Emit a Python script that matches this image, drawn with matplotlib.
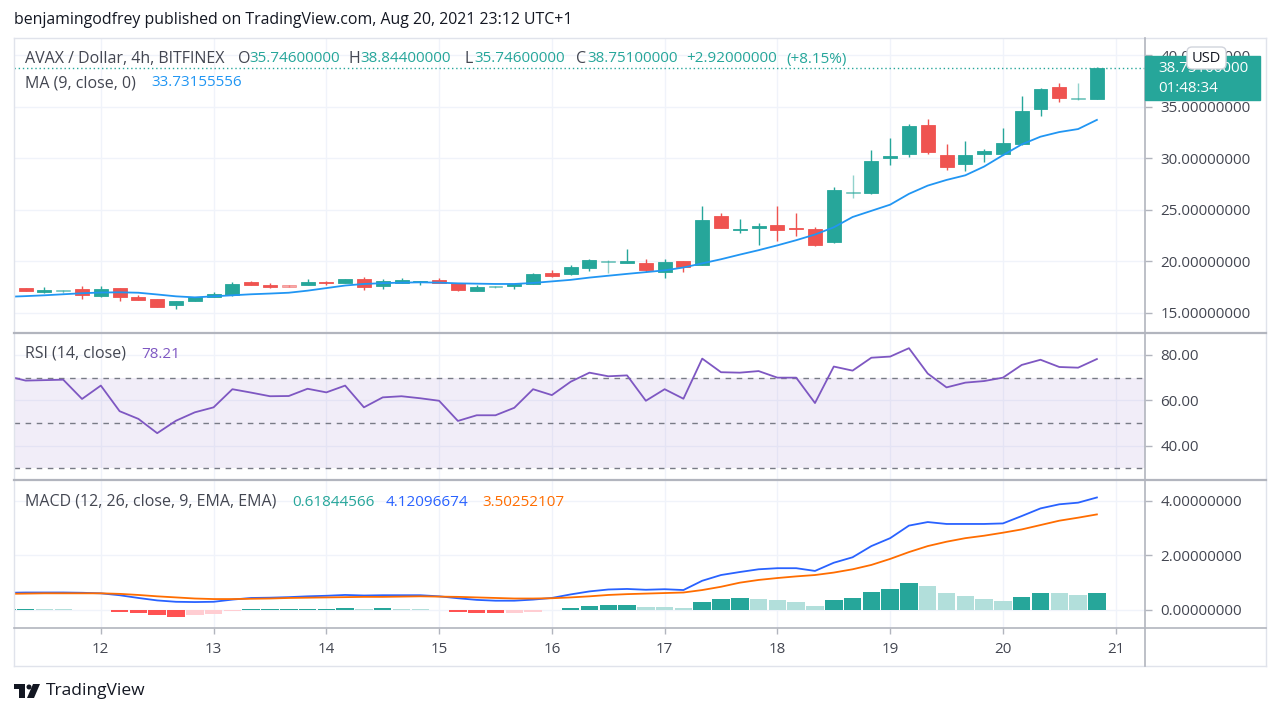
import numpy as np
import matplotlib.pyplot as plt
from matplotlib.patches import Rectangle, FancyBboxPatch, Polygon, Circle
from matplotlib.lines import Line2D
from matplotlib.transforms import Affine2D
from matplotlib.colors import to_rgba

plt.rcParams['font.family'] = ['Open Sans', 'DejaVu Sans']

# AVAX / USD 4h candles, Aug 11 - Aug 20 2021
opens = [16.85, 17.38, 17.02, 17.12, 17.28, 16.60, 17.38, 16.56, 16.31, 15.73,
         16.15, 16.50, 16.70, 17.96, 17.73, 17.67, 17.67, 17.99, 17.86, 18.25,
         17.60, 17.86, 18.00, 18.18, 17.89, 17.15, 17.50, 17.57, 17.77, 18.90,
         18.74, 19.38, 19.90, 19.87, 19.81, 18.93, 20.03, 19.64, 24.37, 23.00,
         23.26, 23.52, 23.20, 23.17, 21.90, 26.62, 26.60, 30.06, 30.42, 33.20,
         30.35, 29.48, 30.39, 30.45, 31.36, 34.79, 36.89, 35.75, 35.746]
highs = [17.35, 17.45, 17.48, 17.18, 17.60, 17.60, 17.42, 16.76, 16.31, 16.17,
         16.55, 17.02, 17.99, 18.09, 17.90, 17.70, 18.25, 18.13, 18.28, 18.50,
         18.25, 18.38, 18.12, 18.38, 17.89, 17.70, 17.65, 17.83, 18.82, 19.16,
         19.61, 20.25, 20.10, 21.17, 20.22, 20.19, 20.05, 25.34, 24.66, 24.10,
         23.72, 25.40, 24.72, 23.33, 27.24, 28.38, 30.80, 31.94, 33.30, 33.79,
         31.42, 31.68, 30.90, 32.97, 36.08, 36.80, 37.31, 37.28, 38.844]
lows = [16.80, 17.15, 16.95, 16.95, 16.37, 16.53, 16.15, 16.24, 15.60, 15.40,
        16.10, 16.50, 16.65, 17.67, 17.45, 17.52, 17.67, 17.73, 17.86, 17.20,
        17.31, 17.86, 17.67, 17.92, 17.09, 17.09, 17.40, 17.28, 17.77, 18.45,
        18.70, 19.09, 18.89, 19.87, 18.99, 18.41, 18.99, 19.60, 23.26, 22.72,
        21.58, 21.97, 22.49, 21.50, 21.80, 26.12, 26.55, 29.35, 30.16, 30.45,
        28.84, 28.80, 29.61, 30.30, 31.30, 34.14, 35.44, 35.70, 35.746]
closes = [17.30, 17.15, 17.18, 17.16, 16.70, 17.34, 16.53, 16.24, 15.60, 16.17,
          16.53, 16.83, 17.80, 17.67, 17.48, 17.54, 17.99, 17.86, 18.25, 17.54,
          18.09, 18.18, 18.09, 17.92, 17.21, 17.50, 17.58, 17.83, 18.80, 18.57,
          19.42, 20.13, 19.96, 20.03, 19.18, 19.96, 19.48, 23.98, 23.26, 23.17,
          23.43, 23.04, 23.10, 21.58, 26.92, 26.70, 29.77, 30.25, 33.14, 30.61,
          29.13, 30.29, 30.71, 31.49, 34.62, 36.70, 35.83, 35.80, 38.751]
faint_bars = [3, 15, 26, 32, 45, 57]

ma9 = [16.55, 16.62, 16.70, 16.80, 16.90, 16.97, 16.99, 16.95, 16.78, 16.60,
       16.50, 16.60, 16.70, 16.80, 16.87, 16.95, 17.15, 17.40, 17.65, 17.80,
       17.88, 17.93, 17.96, 17.93, 17.86, 17.83, 17.80, 17.80, 17.90, 18.05,
       18.20, 18.42, 18.60, 18.78, 18.95, 19.12, 19.40, 19.80, 20.20, 20.65,
       21.08, 21.55, 22.05, 22.60, 23.30, 24.30, 24.90, 25.50, 26.55, 27.35,
       27.90, 28.35, 29.20, 30.30, 31.35, 32.10, 32.55, 32.84, 33.73]

rsi = [70.7, 68.7, 68.9, 69.1, 60.6, 66.5, 55.2, 51.8, 45.5, 51.0,
       54.7, 56.9, 64.9, 63.4, 61.8, 61.9, 65.1, 63.5, 66.5, 56.9,
       61.3, 61.8, 60.9, 59.8, 50.9, 53.4, 53.4, 56.7, 64.9, 62.3,
       68.2, 72.2, 70.6, 71.0, 59.8, 64.9, 60.7, 78.4, 72.4, 72.2,
       72.9, 70.0, 70.0, 58.8, 74.9, 73.1, 78.8, 79.3, 83.0, 71.8,
       65.7, 67.8, 68.5, 70.0, 75.6, 77.9, 74.7, 74.4, 78.21]

macd = [0.63, 0.64, 0.64, 0.64, 0.63, 0.61, 0.54, 0.44, 0.35, 0.30,
        0.29, 0.30, 0.38, 0.44, 0.45, 0.47, 0.50, 0.52, 0.55, 0.53,
        0.54, 0.54, 0.54, 0.50, 0.43, 0.37, 0.34, 0.34, 0.38, 0.44,
        0.57, 0.68, 0.75, 0.77, 0.74, 0.76, 0.73, 1.07, 1.28, 1.39,
        1.49, 1.53, 1.53, 1.43, 1.73, 1.93, 2.34, 2.63, 3.09, 3.22,
        3.15, 3.15, 3.15, 3.17, 3.44, 3.72, 3.87, 3.93, 4.12]
signal = [0.59, 0.60, 0.61, 0.61, 0.61, 0.61, 0.59, 0.55, 0.50, 0.46,
          0.42, 0.40, 0.40, 0.41, 0.42, 0.44, 0.45, 0.46, 0.47, 0.48,
          0.48, 0.49, 0.50, 0.49, 0.48, 0.46, 0.44, 0.42, 0.42, 0.43,
          0.46, 0.50, 0.55, 0.58, 0.60, 0.62, 0.64, 0.73, 0.85, 1.00,
          1.10, 1.17, 1.23, 1.28, 1.37, 1.49, 1.65, 1.87, 2.12, 2.34,
          2.50, 2.63, 2.72, 2.83, 2.95, 3.11, 3.27, 3.38, 3.50]
hist = [0.03, 0.035, 0.03, 0.02, 0.01, 0.015, -0.08, -0.12, -0.20, -0.24,
        -0.20, -0.16, -0.05, 0.02, 0.025, 0.035, 0.045, 0.05, 0.09, 0.04,
        0.06, 0.04, 0.03, 0.01, -0.08, -0.10, -0.12, -0.11, -0.06, 0.01,
        0.09, 0.15, 0.17, 0.18, 0.12, 0.11, 0.09, 0.30, 0.40, 0.44,
        0.40, 0.37, 0.29, 0.15, 0.37, 0.44, 0.67, 0.77, 0.98, 0.88,
        0.63, 0.51, 0.40, 0.34, 0.48, 0.61, 0.61, 0.55, 0.62]

days = [12, 13, 14, 15, 16, 17, 18, 19, 20, 21]
price_ticks = [15, 20, 25, 30, 35, 40]
rsi_ticks = [40, 60, 80]
macd_ticks = [0, 2, 4]
last_bar_day = 20 + 20 / 24

UP, DOWN = '#26a69a', '#ef5350'
LABEL = '#434651'
W, H = 1280, 716

n = len(closes)
t = last_bar_day - np.arange(n)[::-1] / 6.0

fig = plt.figure(figsize=(W / 100, H / 100), dpi=100)
fig.patch.set_facecolor('white')
px = Affine2D().scale(1.0 / W, -1.0 / H).translate(0, 1) + fig.transFigure


def box(x0, y0, x1, y1):
    return [x0 / W, 1 - y1 / H, (x1 - x0) / W, (y1 - y0) / H]


ax_p = fig.add_axes(box(14, 38, 1145, 333))
ax_r = fig.add_axes(box(14, 333, 1145, 480))
ax_m = fig.add_axes(box(14, 480, 1145, 628))

for ax in (ax_p, ax_r, ax_m):
    ax.set_xlim(11.23, 21.26)
    for s in ax.spines.values():
        s.set_visible(False)
    ax.set_xticks(days)
    ax.grid(True, color='#f0f3fa', lw=1)
    ax.set_axisbelow(True)
    ax.yaxis.tick_right()
    ax.tick_params(axis='y', length=5, width=1, color='#b2b5be', pad=6,
                   labelsize=10.9, labelcolor=LABEL)
    ax.tick_params(axis='x', length=0, labelbottom=False)
ax_m.tick_params(axis='x', labelbottom=True, length=4, width=1, color='#b2b5be',
                 pad=6, labelsize=10.9, labelcolor=LABEL)

# price pane
ax_p.set_ylim(13.04, 41.68)
ax_p.set_yticks(price_ticks)
ax_p.set_yticklabels(['%.8f' % v for v in price_ticks])
cols = []
for i in range(n):
    c = UP if closes[i] >= opens[i] else DOWN
    cols.append(to_rgba(c, 0.5 if i in faint_bars else 1.0))
bottoms = np.minimum(opens, closes)
heights = np.maximum(np.abs(np.array(closes) - np.array(opens)), 0.1)
ax_p.vlines(t, lows, highs, colors=cols, lw=1, zorder=2)
ax_p.bar(t, heights, bottom=bottoms, width=0.124, color=cols, edgecolor=cols,
         lw=0.6, zorder=3)
ax_p.plot(t, ma9, color='#2196f3', lw=1.3, zorder=4)
ax_p.axhline(closes[-1], color=UP, ls=(0, (1, 2)), lw=1, zorder=1)

# RSI pane
ax_r.set_ylim(24.84, 89.7)
ax_r.set_yticks(rsi_ticks)
ax_r.set_yticklabels(['%.2f' % v for v in rsi_ticks])
ax_r.axhspan(30, 70, color='#7e57c2', alpha=0.1, lw=0)
for lvl in (30, 50, 70):
    ax_r.axhline(lvl, color='#787b86', lw=1, ls=(0, (4, 4)))
ax_r.plot(t, rsi, color='#7e57c2', lw=1.3)

# MACD pane
ax_m.set_ylim(-0.66, 4.76)
ax_m.set_yticks(macd_ticks)
ax_m.set_yticklabels(['%.8f' % v for v in macd_ticks])
hcols = []
for i, h in enumerate(hist):
    prev = hist[i - 1] if i > 0 else 0
    if h >= 0:
        hcols.append('#26a69a' if h > prev else '#b2dfdb')
    else:
        hcols.append('#ff5252' if h < prev else '#ffcdd2')
ax_m.bar(t, hist, width=0.155, color=hcols, lw=0)
ax_m.plot(t, macd, color='#2962ff', lw=1.3)
ax_m.plot(t, signal, color='#ff6d00', lw=1.3)


# frame and separators
def hline(y, x0, x1, color, lw):
    fig.add_artist(Line2D([x0, x1], [y, y], transform=px, color=color, lw=lw, zorder=6))


def vline(x, y0, y1, color, lw):
    fig.add_artist(Line2D([x, x], [y0, y1], transform=px, color=color, lw=lw, zorder=6))


hline(38, 14, 1266, '#e0e3eb', 1)
hline(666, 14, 1266, '#e0e3eb', 1)
vline(14, 38, 666, '#e0e3eb', 1)
vline(1266, 38, 666, '#e0e3eb', 1)
hline(333, 14, 1266, '#b2b5be', 1.6)
hline(480, 14, 1266, '#b2b5be', 1.6)
hline(628, 14, 1266, '#b2b5be', 1.2)
vline(1145, 38, 666, '#b2b5be', 1.2)

# last price label and currency pill
fig.add_artist(Rectangle((1145, 56), 115, 44, transform=px, facecolor=UP,
                         edgecolor=UP, zorder=7))
fig.text(1158, 68, '38.75100000', transform=px, color='white', fontsize=10.9,
         va='center', zorder=8)
fig.text(1158, 89, '01:48:34', transform=px, color='white', fontsize=10.9,
         va='center', zorder=8)
fig.add_artist(FancyBboxPatch((1187, 47), 39, 22, transform=px,
                              boxstyle='round,pad=0,rounding_size=5',
                              facecolor='white', edgecolor='#d1d4dc', lw=1, zorder=9))
fig.text(1206.5, 58, 'USD', transform=px, color='#131722', fontsize=10.5,
         ha='center', va='center', zorder=10)

# header and legends
fig.text(14, 20, 'benjamingodfrey published on TradingView.com, Aug 20, 2021 23:12 UTC+1',
         transform=px, fontsize=11.4, color='#131722', va='center')
legend_rows = [
    (59, [(25, 'AVAX / Dollar, 4h, BITFINEX', LABEL), (238, 'O', LABEL),
          (249, '35.74600000', UP), (349, 'H', LABEL), (360, '38.84400000', UP),
          (465, 'L', LABEL), (474, '35.74600000', UP), (576, 'C', LABEL),
          (587, '38.75100000', UP), (686, '+2.92000000', UP), (786, '(+8.15%)', UP)]),
    (83, [(25, 'MA (9, close, 0)', LABEL), (151, '33.73155556', '#2196f3')]),
    (354, [(25, 'RSI (14, close)', LABEL), (141, '78.21', '#7e57c2')]),
    (502, [(25, 'MACD (12, 26, close, 9, EMA, EMA)', LABEL),
           (292, '0.61844566', '#26a69a'), (386, '4.12096674', '#2962ff'),
           (482, '3.50252107', '#ff6d00')]),
]
for y, parts in legend_rows:
    for x, s, c in parts:
        size = 11.0 if s[0] in '0123456789+(' else 11.5
        fig.text(x, y, s, transform=px, fontsize=size, color=c, va='center', zorder=8)

# TradingView logo
fig.add_artist(Polygon([(14, 684), (25, 684), (25, 698), (19, 698), (19, 689), (14, 689)],
                       closed=True, transform=px, facecolor='#131722', lw=0))
fig.add_artist(Circle((29, 687), 2.5, transform=px, facecolor='#131722', lw=0))
fig.add_artist(Polygon([(33, 684), (40, 684), (34, 698), (27, 698)], closed=True,
                       transform=px, facecolor='#131722', lw=0))
fig.text(46, 691, 'TradingView', transform=px, fontsize=12.5, color='#131722', va='center')

fig.savefig('out.png', dpi=100, facecolor='white')
